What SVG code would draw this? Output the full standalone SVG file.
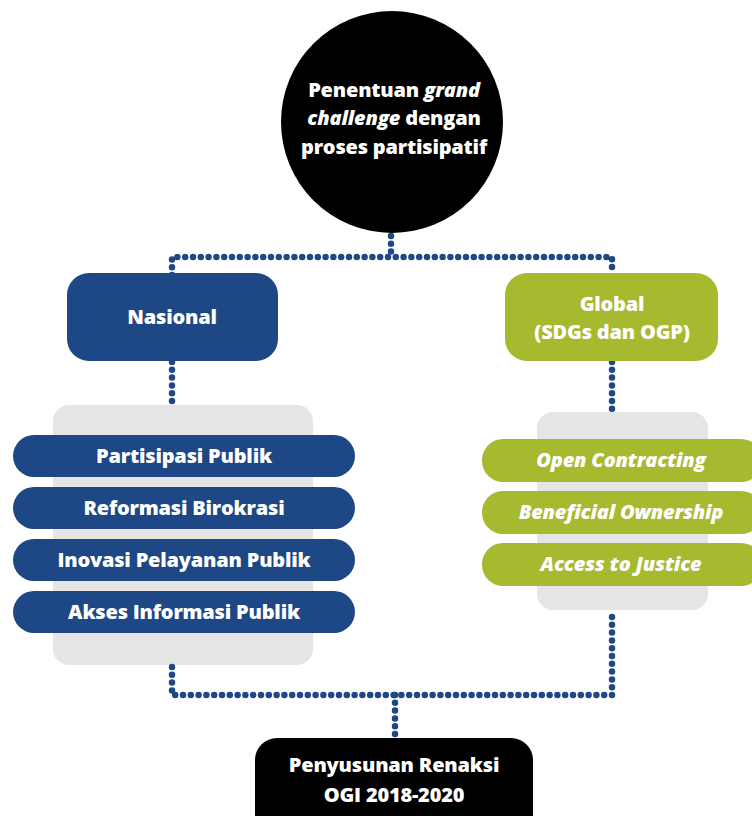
<svg xmlns="http://www.w3.org/2000/svg" width="752" height="816" viewBox="0 0 752 816">
  <style>
    .lbl { font-family: "Open Sans", Lato, "Liberation Sans", sans-serif; font-weight: 800; fill: #ffffff; text-anchor: middle; letter-spacing: -0.2px; }
    .it { font-style: italic; }
    .blue { fill: #1d4785; }
    .green { fill: #a6b92f; }
    .panel { fill: #e5e5e5; }
    .dots { fill: none; stroke: #1d4785; stroke-width: 6.5; stroke-linecap: round; stroke-linejoin: round; stroke-dasharray: 0 7.8; }
  </style>
  <rect width="752" height="816" fill="#ffffff"/>

  <!-- background panels behind the pill lists -->
  <g id="panel-nasional"><rect class="panel" x="53" y="405" width="260" height="260" rx="16"/></g>
  <g id="panel-global"><rect class="panel" x="537" y="412" width="171" height="198" rx="16"/></g>

  <!-- dotted connectors -->
  <g id="connectors">
    <path class="dots" d="M391 236 V257"/>
    <path class="dots" d="M172 275 V257 H612 V273"/>
    <path class="dots" d="M172 362 V405"/>
    <path class="dots" d="M612 362 V410"/>
    <path class="dots" d="M172 667 V695 H612 V611"/>
    <path class="dots" d="M395 695 V738"/>
  </g>

  <!-- top circle -->
  <g id="grand-challenge">
    <circle cx="392" cy="122" r="111" fill="#000000"/>
    <text class="lbl" font-size="20" x="394" y="97">Penentuan <tspan class="it">grand</tspan></text>
    <text class="lbl" font-size="20" x="394" y="125"><tspan class="it">challenge</tspan> dengan</text>
    <text class="lbl" font-size="20" x="394" y="154">proses partisipatif</text>
  </g>

  <!-- Nasional -->
  <g id="nasional">
    <rect class="blue" x="67" y="273" width="211" height="88" rx="22"/>
    <text class="lbl" font-size="20" x="172" y="324">Nasional</text>
  </g>

  <!-- Global -->
  <g id="global">
    <rect class="green" x="505" y="273" width="213" height="88" rx="22"/>
    <text class="lbl" font-size="20" x="612" y="311">Global</text>
    <text class="lbl" font-size="20" x="612" y="339">(SDGs dan OGP)</text>
  </g>

  <!-- national themes -->
  <g id="partisipasi-publik">
    <rect class="blue" x="13" y="435" width="342" height="42" rx="21"/>
    <text class="lbl" font-size="20" x="184" y="463">Partisipasi Publik</text>
  </g>
  <g id="reformasi-birokrasi">
    <rect class="blue" x="13" y="487" width="342" height="42" rx="21"/>
    <text class="lbl" font-size="20" x="184" y="515">Reformasi Birokrasi</text>
  </g>
  <g id="inovasi-pelayanan-publik">
    <rect class="blue" x="13" y="539" width="342" height="42" rx="21"/>
    <text class="lbl" font-size="20" x="184" y="567">Inovasi Pelayanan Publik</text>
  </g>
  <g id="akses-informasi-publik">
    <rect class="blue" x="13" y="591" width="342" height="42" rx="21"/>
    <text class="lbl" font-size="20" x="184" y="619">Akses Informasi Publik</text>
  </g>

  <!-- global themes -->
  <g id="open-contracting">
    <rect class="green" x="482" y="439" width="280" height="43" rx="21"/>
    <text class="lbl it" font-size="20" x="621" y="467">Open Contracting</text>
  </g>
  <g id="beneficial-ownership">
    <rect class="green" x="482" y="491" width="280" height="43" rx="21"/>
    <text class="lbl it" font-size="20" x="621" y="519">Beneficial Ownership</text>
  </g>
  <g id="access-to-justice">
    <rect class="green" x="482" y="543" width="280" height="43" rx="21"/>
    <text class="lbl it" font-size="20" x="621" y="571">Access to Justice</text>
  </g>

  <!-- outcome -->
  <g id="penyusunan-renaksi">
    <rect x="255" y="738" width="278" height="100" rx="22" fill="#000000"/>
    <text class="lbl" font-size="20" x="394" y="772">Penyusunan Renaksi</text>
    <text class="lbl" font-size="20" x="394" y="802">OGI 2018-2020</text>
  </g>
</svg>
